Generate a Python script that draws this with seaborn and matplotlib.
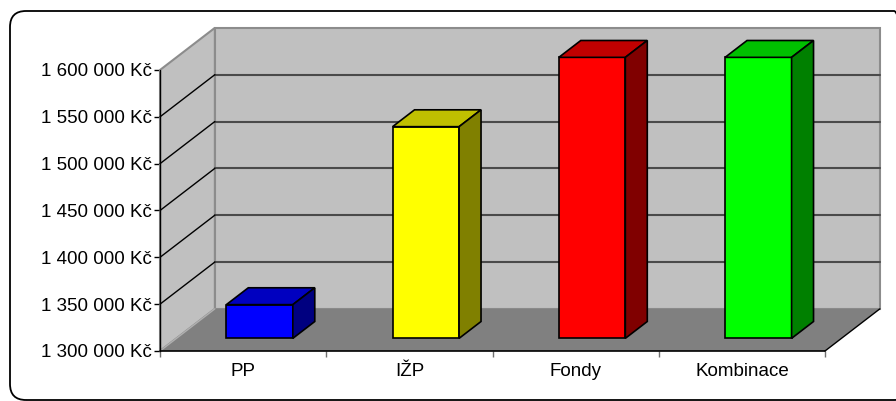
import matplotlib
matplotlib.use('Agg')
import matplotlib.pyplot as plt
import matplotlib.transforms as mtransforms
from matplotlib.patches import Polygon, FancyBboxPatch
import seaborn as sns
import pandas as pd

# data
categories = ['PP', 'IŽP', 'Fondy', 'Kombinace']
values = [1336000, 1526000, 1600000, 1600000]
y_ticks = [1300000, 1350000, 1400000, 1450000, 1500000, 1550000, 1600000]

front_colors = ['#0000FF', '#FFFF00', '#FF0000', '#00FF00']
top_colors = ['#0000C0', '#C0C000', '#C00000', '#00C000']
side_colors = ['#000080', '#808000', '#800000', '#008000']

base, top = y_ticks[0], y_ticks[-1]
# fake 3d depth, in data units (x categories, y Kč)
DX, DY = 0.33, 45000
z0, z1 = 0.3, 0.7

sns.set_theme(style='white')
plt.rcParams['font.family'] = ['Liberation Sans', 'DejaVu Sans']

fig = plt.figure(figsize=(8.96, 4.01), dpi=100)
ax = fig.add_axes([160 / 896, 50 / 401, 665 / 896, 281 / 401])

df = pd.DataFrame({'kategorie': categories, 'hodnota': values})
sns.barplot(data=df, x='kategorie', y='hodnota', hue='kategorie', palette=front_colors,
            saturation=1, width=0.4, edgecolor='black', linewidth=1.2, legend=False,
            ax=ax, zorder=10)
ax.set_xlim(-0.5, len(categories) - 0.5)
ax.set_ylim(base, top)
x_lo, x_hi = ax.get_xlim()

# walls and floor
left_wall = [(x_lo, base), (x_lo, top), (x_lo + DX, top + DY), (x_lo + DX, base + DY)]
floor = [(x_lo, base), (x_hi, base), (x_hi + DX, base + DY), (x_lo + DX, base + DY)]
back_wall = [(x_lo + DX, base + DY), (x_hi + DX, base + DY), (x_hi + DX, top + DY), (x_lo + DX, top + DY)]
ax.add_patch(Polygon(back_wall, closed=True, fc='#C0C0C0', ec='#8c8c8c', lw=1.5, clip_on=False, zorder=1))
ax.add_patch(Polygon(left_wall, closed=True, fc='#C0C0C0', ec='#8c8c8c', lw=1.5, clip_on=False, zorder=1))
ax.add_patch(Polygon(floor, closed=True, fc='#808080', ec='none', clip_on=False, zorder=2))
ax.plot([x_hi, x_hi + DX], [base, base + DY], color='black', lw=1, clip_on=False, zorder=3)
ax.plot([x_lo, x_lo + DX], [base, base + DY], color='#b0b0b0', lw=1, clip_on=False, zorder=3)

for v in y_ticks[1:-1]:
    ax.plot([x_lo + DX, x_hi + DX], [v + DY, v + DY], color='#4a4a4a', lw=1.5, clip_on=False, zorder=2)
    ax.plot([x_lo, x_lo + DX], [v, v + DY], color='black', lw=1, clip_on=False, zorder=2)

# turn the flat seaborn bars into boxes
for p, tc, sc in zip(ax.patches[:len(categories)], top_colors, side_colors):
    x0 = p.get_x() + z0 * DX
    w = p.get_width()
    v = p.get_height() + z0 * DY
    b = base + z0 * DY
    p.set_x(x0)
    p.set_y(b)
    p.set_height(p.get_height() - base)
    p.set_clip_on(False)
    ddx, ddy = (z1 - z0) * DX, (z1 - z0) * DY
    top_face = [(x0, v), (x0 + w, v), (x0 + w + ddx, v + ddy), (x0 + ddx, v + ddy)]
    side_face = [(x0 + w, b), (x0 + w, v), (x0 + w + ddx, v + ddy), (x0 + w + ddx, b + ddy)]
    ax.add_patch(Polygon(top_face, closed=True, fc=tc, ec='black', lw=1.2, clip_on=False, zorder=10))
    ax.add_patch(Polygon(side_face, closed=True, fc=sc, ec='black', lw=1.2, clip_on=False, zorder=10))

# axes
for s in ax.spines.values():
    s.set_visible(False)
ax.plot([x_lo, x_lo], [base, top], color='black', lw=1, clip_on=False, zorder=4)
ax.plot([x_lo, x_hi], [base, base], color='black', lw=1.2, clip_on=False, zorder=4)
ax.set_xlabel('')
ax.set_ylabel('')
ax.set_facecolor('none')

ax.set_yticks(y_ticks)
ax.set_yticklabels([f'{v:,}'.replace(',', ' ') + ' Kč' for v in y_ticks])
ax.tick_params(axis='y', left=True, length=4, width=1, color='black', pad=2, labelsize=13.5, labelcolor='black')
ax.set_xticks(range(len(categories)))
ax.set_xticklabels(categories)
ax.set_xticks([i - 0.5 for i in range(len(categories) + 1)], minor=True)
ax.tick_params(axis='x', which='major', bottom=False, pad=3, labelsize=13.5, labelcolor='black')
ax.tick_params(axis='x', which='minor', bottom=True, length=4, width=1, color='#707070')

# rounded chart border
frame = FancyBboxPatch((10, 1), 900, 389, boxstyle='round,pad=0,rounding_size=16',
                       fc='none', ec='black', lw=1.3, transform=mtransforms.IdentityTransform())
fig.add_artist(frame)

fig.savefig('out.png', dpi=100, facecolor='white')
